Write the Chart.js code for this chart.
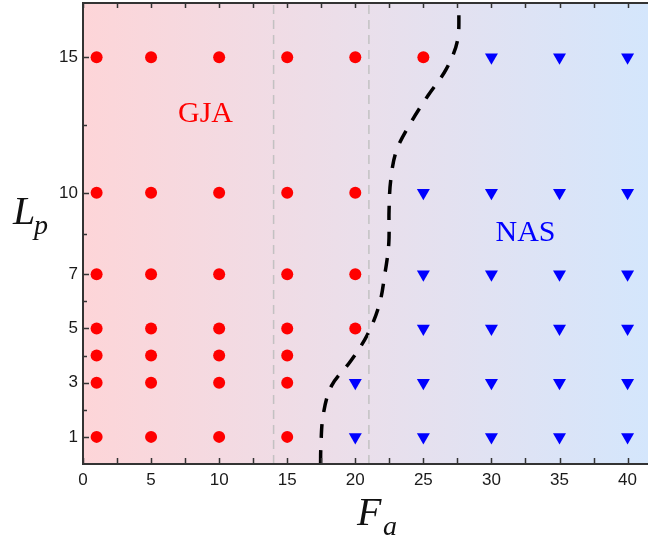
<!DOCTYPE html>
<html><head><meta charset="utf-8">
<script src="https://cdn.jsdelivr.net/npm/chart.js@4/dist/chart.umd.min.js"></script>
<style>html,body{margin:0;padding:0;background:#fff}#wrap{width:648px;height:543px}</style>
</head><body><div id="wrap"><canvas id="c" width="648" height="543"></canvas></div>
<script>
// ---- data ----
const xTickValues = [0, 5, 10, 15, 20, 25, 30, 35, 40];
const xMinorTicks = [2.5, 7.5, 12.5, 17.5, 22.5, 27.5, 32.5, 37.5];
const yTickValues = [1, 3, 5, 7, 10, 15];
const yMinorTicks = [2, 4, 6, 8.5, 12.5];
const gjaFa = [1, 5, 10, 15, 20, 25];
const gjaLp = [[1,3,4,5,7,10,15],[1,3,4,5,7,10,15],[1,3,4,5,7,10,15],[1,3,4,5,7,10,15],[5,7,10,15],[15]];
const nasFa = [20, 25, 30, 35, 40];
const nasLp = [[1,3],[1,3,5,7,10],[1,3,5,7,10,15],[1,3,5,7,10,15],[1,3,5,7,10,15]];
const boundaryFa = [17.45,17.47,17.64,18.25,19.65,20.87,21.75,22.17,22.46,22.48,22.6,23.02,24.12,25.32,26.69,27.5,27.62,27.63];
const boundaryLp = [0,0.6,1.8,2.88,3.79,4.75,5.85,7.0,8.13,9.35,10.45,11.55,12.62,13.57,14.57,15.6,16.77,17];
const refFa = [14, 21];
const regionLabels = ['GJA', 'NAS'];
const regionLabelFa = [9.0, 32.5];
const regionLabelLp = [12.9, 8.5];

// ---- build datasets ----
function cols(xs, ys){ const out=[]; xs.forEach((x,i)=>ys[i].forEach(y=>out.push({x,y}))); return out; }
const gjaPts = cols(gjaFa, gjaLp);
const nasPts = cols(nasFa, nasLp);
const boundary = boundaryFa.map((x,i)=>({x, y: boundaryLp[i]}));
const refLines = refFa.map(x=>[{x, y:0},{x, y:17}]);

const framePlugin = {
  id: 'frame',
  beforeDatasetsDraw(chart){
    const {ctx, chartArea:a} = chart;
    const g = ctx.createLinearGradient(a.left,0,a.right,0);
    g.addColorStop(0,'rgb(253,213,216)');
    g.addColorStop(0.5,'rgb(234,223,235)');
    g.addColorStop(1,'rgb(212,230,252)');
    ctx.save(); ctx.fillStyle=g; ctx.fillRect(a.left,a.top,a.right-a.left,a.bottom-a.top); ctx.restore();
  },
  afterDatasetsDraw(chart){
    const {ctx, chartArea:a, scales:{x:xs, y:ys}} = chart;
    ctx.save();
    ctx.strokeStyle='#333'; ctx.lineWidth=2;
    ctx.beginPath();
    ctx.moveTo(a.left, a.top); ctx.lineTo(a.left, a.bottom);
    ctx.moveTo(a.left-1, a.bottom); ctx.lineTo(a.right, a.bottom);
    ctx.moveTo(a.left-1, a.top); ctx.lineTo(a.right, a.top);
    ctx.stroke();
    ctx.lineWidth=1.5;
    ctx.beginPath();
    [...xTickValues, ...xMinorTicks].forEach(v=>{
      const px = Math.round(xs.getPixelForValue(v))+0.5;
      ctx.moveTo(px, a.bottom); ctx.lineTo(px, a.bottom-6);
      ctx.moveTo(px, a.top); ctx.lineTo(px, a.top+5);
    });
    yTickValues.forEach(v=>{ const py=Math.round(ys.getPixelForValue(v))+0.5; ctx.moveTo(a.left,py); ctx.lineTo(a.left+6,py); });
    yMinorTicks.forEach(v=>{ const py=Math.round(ys.getPixelForValue(v))+0.5; ctx.moveTo(a.left,py); ctx.lineTo(a.left+4,py); });
    ctx.stroke();
    // region labels
    ctx.font = '30px "Liberation Serif", "Times New Roman", serif';
    ctx.textAlign='center'; ctx.textBaseline='middle';
    ctx.fillStyle='#ff0000';
    ctx.fillText(regionLabels[0], xs.getPixelForValue(regionLabelFa[0]), ys.getPixelForValue(regionLabelLp[0]));
    ctx.fillStyle='#0000ff';
    ctx.fillText(regionLabels[1], xs.getPixelForValue(regionLabelFa[1]), ys.getPixelForValue(regionLabelLp[1]));
    ctx.restore();
  },
  afterDraw(chart){
    const {ctx} = chart;
    ctx.save();
    ctx.fillStyle='#111'; ctx.textBaseline='alphabetic'; ctx.textAlign='left';
    ctx.font = 'italic 40px "Liberation Serif", "Times New Roman", serif';
    ctx.fillText('F', 357, 525);
    ctx.font = 'italic 28px "Liberation Serif", "Times New Roman", serif';
    ctx.fillText('a', 383, 535);
    ctx.font = 'italic 40px "Liberation Serif", "Times New Roman", serif';
    ctx.fillText('L', 13, 224);
    ctx.font = 'italic 28px "Liberation Serif", "Times New Roman", serif';
    ctx.fillText('p', 34, 234);
    ctx.restore();
  }
};

const tickFont = {family: '"Liberation Sans", Arial, sans-serif', size: 17};
function zeroPad(s){ s.paddingTop=0; s.paddingBottom=0; s.paddingLeft=0; s.paddingRight=0; }

new Chart(document.getElementById('c'), {
  type: 'scatter',
  data: {
    datasets: [
      ...refLines.map(d=>({type:'line', data:d, borderColor:'rgba(190,190,190,0.9)', borderWidth:1.5, borderDash:[9,6], pointRadius:0, fill:false})),
      {type:'line', data: boundary, borderColor:'#000', borderWidth:3.5, borderDash:[14,12], tension:0.35, pointRadius:0, fill:false, borderCapStyle:'butt'},
      {data: gjaPts, pointStyle:'circle', pointRadius:6, backgroundColor:'#ff0000', borderColor:'#ff0000', borderWidth:0},
      {data: nasPts, pointStyle:'triangle', rotation:180, pointRadius:7.5, backgroundColor:'#0000ff', borderColor:'#0000ff', borderWidth:0}
    ]
  },
  options: {
    responsive: false, animation: false,
    layout: {autoPadding: false, padding: {top: 3, right: 0, left: 0, bottom: 0}},
    plugins: {legend: {display:false}, tooltip: {enabled:false}},
    scales: {
      x: {
        type:'linear', min:0, max:41.5,
        border:{display:false}, grid:{display:false, drawTicks:false},
        afterBuildTicks: s => { s.ticks = xTickValues.map(v=>({value:v})); },
        afterFit: s => { s.height = 79; zeroPad(s); },
        ticks: {font: tickFont, color:'#1a1a1a', padding:6, autoSkip:false, maxRotation:0}
      },
      y: {
        type:'linear', min:0, max:17,
        border:{display:false}, grid:{display:false, drawTicks:false},
        afterBuildTicks: s => { s.ticks = yTickValues.map(v=>({value:v})); },
        afterFit: s => { s.width = 83; zeroPad(s); },
        ticks: {font: tickFont, color:'#1a1a1a', padding:5, autoSkip:false}
      }
    }
  },
  plugins: [framePlugin]
});
</script>
</body></html>
